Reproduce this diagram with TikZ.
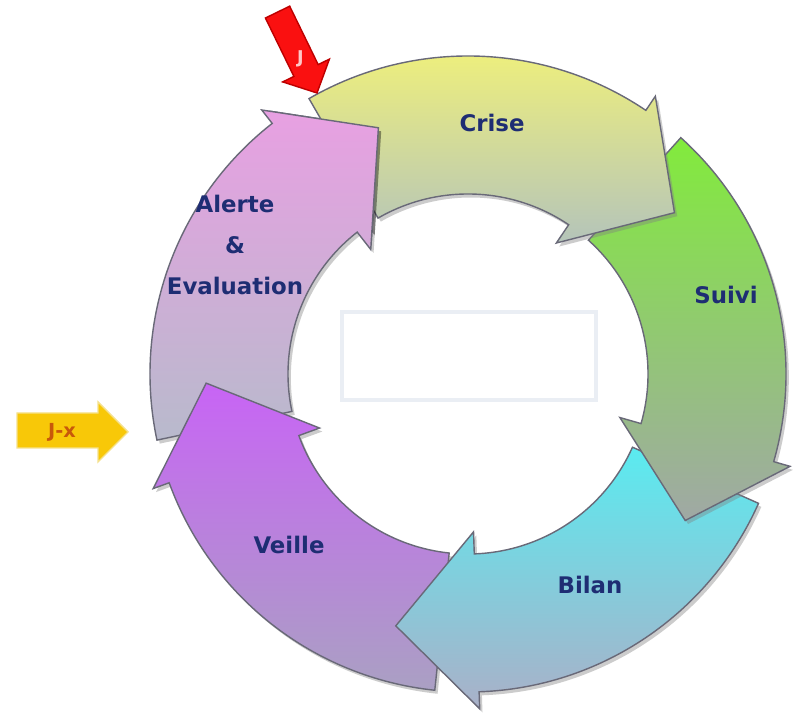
\documentclass[tikz,border=0pt]{standalone}
\usepackage{fontspec}
\setsansfont{DejaVu Sans}
\usetikzlibrary{shadows}

\definecolor{alertehaut}{RGB}{232,160,226}
\definecolor{alertebas}{RGB}{184,186,204}
\definecolor{veillehaut}{RGB}{200,100,245}
\definecolor{veillebas}{RGB}{170,160,195}
\definecolor{bilanhaut}{RGB}{90,235,240}
\definecolor{bilanbas}{RGB}{170,176,200}
\definecolor{suivihaut}{RGB}{130,235,60}
\definecolor{suivibas}{RGB}{160,168,165}
\definecolor{crisehaut}{RGB}{242,242,120}
\definecolor{crisebas}{RGB}{180,196,186}
\definecolor{contour}{RGB}{105,105,120}
\definecolor{texte}{RGB}{30,45,115}
\definecolor{cadregris}{RGB}{234,238,244}
\definecolor{jaunejx}{RGB}{248,200,8}
\definecolor{bordjx}{RGB}{245,225,140}
\definecolor{textejx}{RGB}{200,88,10}
\definecolor{rougej}{RGB}{250,16,16}
\definecolor{bordj}{RGB}{190,0,0}
\definecolor{textej}{RGB}{255,200,200}

% start, back of head, tip
\newcommand{\anneau}[3]{(#1:318) arc[start angle=#1, end angle=#2, radius=318] -- (#2:335) -- (#3:262) -- (#2:158) -- (#2:180) arc[start angle=#2, end angle=#1, radius=180] -- cycle}

\begin{document}
\begin{tikzpicture}[x=0.01cm, y=0.01cm,
  fleche/.style={draw=contour, line width=0.4pt, drop shadow={opacity=0.4, shadow xshift=0.8pt, shadow yshift=-1pt}},
  etiquette/.style={font=\fontsize{6.5}{11.7}\selectfont\sffamily\bfseries, text=texte},
  cadre/.style={draw=cadregris, line width=1.2pt, minimum width=2.54cm, minimum height=0.88cm}]
\fill[white] (0,0) rectangle (801,716);
\useasboundingbox (0,0) rectangle (801,716);

\begin{scope}[shift={(468,342)}]
\foreach \s/\b/\t/\nom in {192/128/110/alerte, -96/-160/-178/veille, -24/-88/-106/bilan, 48/-16/-34/suivi, 120/56/38/crise} {
\path[fleche, top color=\nom haut, bottom color=\nom bas] \anneau{\s}{\b}{\t};
}
% head of Alerte again, above the tail of Crise
\begin{scope}
\clip (0,0) -- (100:400) arc[start angle=100, end angle=124, radius=400] -- cycle;
\fill[black, opacity=0.4, shift={(0.8pt,-1pt)}] \anneau{192}{128}{110};
\end{scope}
\begin{scope}
\clip (0,0) -- (100:400) arc[start angle=100, end angle=127, radius=400] -- cycle;
\path[draw=contour, line width=0.4pt, top color=alertehaut, bottom color=alertebas] \anneau{192}{128}{110};
\end{scope}
\end{scope}

\node[etiquette] (crise) at (492,593) {Crise};
\node[etiquette] (suivi) at (726,421) {Suivi};
\node[etiquette] (bilan) at (590,131) {Bilan};
\node[etiquette] (veille) at (289,171) {Veille};
\node[etiquette, align=center] (alerte) at (235,471) {Alerte\\\&\\Evaluation};

\node[cadre] (centre) at (469,360) {};

\fill[fill=jaunejx, draw=bordjx] (17,268) -- (98,268) -- (98,254) -- (128,284) -- (98,314) -- (98,303) -- (17,303) -- cycle;
\node[font=\fontsize{5.5}{6}\selectfont\sffamily\bfseries, text=textejx] (jx) at (62,284) {J-x};

\begin{scope}[shift={(317,623)}, rotate=-64]
\fill[fill=rougej, draw=bordj] (-90,-13.5) -- (-25,-13.5) -- (-25,-26) -- (0,0) -- (-25,26) -- (-25,13.5) -- (-90,13.5) -- cycle;
\node[font=\fontsize{5}{6}\selectfont\sffamily\bfseries, text=textej] (j) at (-38,0) {J};
\end{scope}
\end{tikzpicture}
\end{document}
